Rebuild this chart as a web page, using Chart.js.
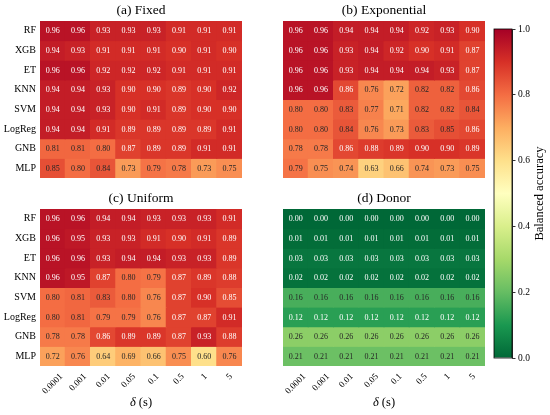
<!DOCTYPE html>
<html><head><meta charset="utf-8">
<script src="https://cdn.jsdelivr.net/npm/chart.js@4"></script>
<style>
html,body{margin:0;padding:0;background:#fff;}
#wrap{position:relative;width:550px;height:415px;background:#fff;}
canvas{position:absolute;left:0;top:0;}
</style></head><body>
<div id="wrap">
<canvas id="ca" width="550" height="415"></canvas>
<canvas id="cb" width="550" height="415"></canvas>
<canvas id="cc" width="550" height="415"></canvas>
<canvas id="cd" width="550" height="415"></canvas>
<canvas id="cbar" width="550" height="415"></canvas>
</div>
<script>
const models = ['RF','XGB','ET','KNN','SVM','LogReg','GNB','MLP'];
const deltas = ['0.0001','0.001','0.01','0.05','0.1','0.5','1','5'];

const fixedAcc = [
  [0.96,0.96,0.93,0.93,0.93,0.91,0.91,0.91],
  [0.94,0.93,0.91,0.91,0.91,0.90,0.91,0.90],
  [0.96,0.96,0.92,0.92,0.92,0.91,0.91,0.91],
  [0.94,0.94,0.93,0.90,0.90,0.89,0.90,0.92],
  [0.94,0.94,0.93,0.90,0.91,0.89,0.90,0.90],
  [0.94,0.94,0.91,0.89,0.89,0.89,0.89,0.91],
  [0.81,0.81,0.80,0.87,0.89,0.89,0.91,0.91],
  [0.85,0.80,0.84,0.73,0.79,0.78,0.73,0.75]
];
const exponentialAcc = [
  [0.96,0.96,0.94,0.94,0.94,0.92,0.93,0.90],
  [0.96,0.96,0.93,0.94,0.92,0.90,0.91,0.87],
  [0.96,0.96,0.93,0.94,0.94,0.94,0.93,0.87],
  [0.96,0.96,0.86,0.76,0.72,0.82,0.82,0.86],
  [0.80,0.80,0.83,0.77,0.71,0.82,0.82,0.84],
  [0.80,0.80,0.84,0.76,0.73,0.83,0.85,0.86],
  [0.78,0.78,0.86,0.88,0.89,0.90,0.90,0.89],
  [0.79,0.75,0.74,0.63,0.66,0.74,0.73,0.75]
];
const uniformAcc = [
  [0.96,0.96,0.94,0.94,0.93,0.93,0.93,0.91],
  [0.96,0.95,0.93,0.93,0.91,0.90,0.91,0.89],
  [0.96,0.96,0.93,0.94,0.94,0.93,0.93,0.89],
  [0.96,0.95,0.87,0.80,0.79,0.87,0.89,0.88],
  [0.80,0.81,0.83,0.80,0.76,0.87,0.90,0.853],
  [0.80,0.81,0.79,0.79,0.76,0.87,0.87,0.91],
  [0.78,0.78,0.86,0.89,0.89,0.87,0.93,0.88],
  [0.72,0.76,0.64,0.69,0.66,0.75,0.60,0.76]
];
const donorAcc = [
  [0.00,0.00,0.00,0.00,0.00,0.00,0.00,0.00],
  [0.01,0.01,0.01,0.01,0.01,0.01,0.01,0.01],
  [0.03,0.03,0.03,0.03,0.03,0.03,0.03,0.03],
  [0.02,0.02,0.02,0.02,0.02,0.02,0.02,0.02],
  [0.16,0.16,0.16,0.16,0.16,0.16,0.16,0.16],
  [0.12,0.12,0.12,0.12,0.12,0.12,0.12,0.12],
  [0.26,0.26,0.26,0.26,0.26,0.26,0.26,0.26],
  [0.21,0.21,0.21,0.21,0.21,0.21,0.21,0.21]
];
const colorbarTicks = [0.0,0.2,0.4,0.6,0.8,1.0];

const SERIF = "'Liberation Serif','DejaVu Serif',serif";
const RDYLGN = ['#a50026','#d73027','#f46d43','#fdae61','#fee08b','#ffffbf','#d9ef8b','#a6d96a','#66bd63','#1a9850','#006837'];
function hex2rgb(h){return [parseInt(h.slice(1,3),16),parseInt(h.slice(3,5),16),parseInt(h.slice(5,7),16)];}
function cmap(v){ // RdYlGn_r
  const t = Math.min(1,Math.max(0,1-v))*10;
  const i = Math.min(9,Math.floor(t)); const f = t-i;
  const a = hex2rgb(RDYLGN[i]), b = hex2rgb(RDYLGN[i+1]);
  const c = a.map((x,k)=>Math.round(x+(b[k]-x)*f));
  return 'rgb('+c.join(',')+')';
}
function textColor(v){ return (v > 0.851 || v < 0.14) ? '#ffffff' : '#262626'; }

function makeOverlay(values, title, showX){
  return {
    id:'overlay',
    afterDatasetsDraw(chart){
      const ctx = chart.ctx, ca = chart.chartArea;
      ctx.save();
      ctx.font = '8px ' + SERIF;
      ctx.textAlign = 'center'; ctx.textBaseline = 'middle';
      values.forEach((row,r)=>{
        const meta = chart.getDatasetMeta(r);
        meta.data.forEach((el,c)=>{
          const p = el.getProps(['x','y','base'], true);
          ctx.fillStyle = textColor(row[c]);
          ctx.fillText(row[c].toFixed(2), p.x, (p.y+p.base)/2 + 0.5);
        });
      });
      ctx.fillStyle = '#000';
      ctx.font = '13.5px ' + SERIF;
      ctx.fillText(title, (ca.left+ca.right)/2, ca.top - 10.5);
      if (showX){
        const xs = chart.scales.x;
        ctx.font = '9px ' + SERIF;
        const topY = ca.bottom + 6;
        deltas.forEach((d,i)=>{
          const w = ctx.measureText(d).width, h = 9;
          const cx = xs.getPixelForValue(i);
          const cy = topY + (w+h)/(2*Math.SQRT2);
          ctx.save(); ctx.translate(cx, cy); ctx.rotate(-Math.PI/4);
          ctx.fillText(d, 0, 0); ctx.restore();
        });
        ctx.font = 'italic 12.5px ' + SERIF;
        const w1 = ctx.measureText('δ').width;
        ctx.font = '12.5px ' + SERIF;
        const w2 = ctx.measureText(' (s)').width;
        const x0 = (ca.left+ca.right)/2 - (w1+w2)/2, y0 = ca.bottom + 37;
        ctx.textAlign = 'left';
        ctx.font = 'italic 12.5px ' + SERIF;
        ctx.fillText('δ', x0, y0);
        ctx.font = '12.5px ' + SERIF;
        ctx.fillText(' (s)', x0 + w1, y0);
      }
      ctx.restore();
    }
  };
}

const Y_AXIS_W = 40;
function makePanel(id, title, values, box, showY, showX){
  new Chart(document.getElementById(id), {
    type:'bar',
    data:{
      labels: deltas,
      datasets: values.map((row,r)=>({
        label: models[r],
        data: row.map(()=>1),
        backgroundColor: row.map(cmap),
        borderWidth: 0,
        barPercentage: 1,
        categoryPercentage: 1,
        inflateAmount: 0.5
      }))
    },
    options:{
      responsive:false, animation:false,
      layout:{padding:{left:box.l - Y_AXIS_W, top:box.t, right:550-box.r, bottom:415-box.b}},
      plugins:{legend:{display:false}, tooltip:{enabled:false}, title:{display:false}},
      scales:{
        x:{stacked:true, grid:{display:false, drawTicks:false}, border:{display:false},
           ticks:{display:false}, afterFit:s=>{s.height=0;}},
        y:{stacked:true, min:0, max:models.length, reverse:true,
           grid:{display:false, drawTicks:false}, border:{display:false},
           ticks:{display:showY, padding:4, autoSkip:false, color:'#000',
                  font:{family:SERIF, size:10},
                  callback:(v,i)=>models[i]},
           afterBuildTicks:s=>{ s.ticks = models.map((m,i)=>({value:i+0.5})); },
           afterFit:s=>{s.width=Y_AXIS_W;}}
      }
    },
    plugins:[makeOverlay(values, title, showX)]
  });
}

makePanel('ca','(a) Fixed', fixedAcc, {l:40,t:21,r:242,b:178}, true, false);
makePanel('cb','(b) Exponential', exponentialAcc, {l:283,t:21,r:485,b:178}, false, false);
makePanel('cc','(c) Uniform', uniformAcc, {l:40,t:209,r:242,b:366}, true, true);
makePanel('cd','(d) Donor', donorAcc, {l:283,t:209,r:485,b:366}, false, true);

// colorbar
const CB_AXIS_W = 30;
new Chart(document.getElementById('cbar'), {
  type:'bar',
  data:{labels:['Balanced accuracy'], datasets:[{
    data:[[colorbarTicks[0], colorbarTicks[colorbarTicks.length-1]]],
    backgroundColor:(c)=>{
      const ca = c.chart.chartArea;
      if(!ca || !isFinite(ca.top) || !isFinite(ca.bottom)) return '#ffffbf';
      const g = c.chart.ctx.createLinearGradient(0, ca.bottom, 0, ca.top);
      for(let k=0;k<=10;k++) g.addColorStop(k/10, RDYLGN[10-k]);
      return g;
    },
    borderWidth:0, barPercentage:1, categoryPercentage:1, inflateAmount:0
  }]},
  options:{
    responsive:false, animation:false,
    layout:{padding:{left:494, top:29, right:550-512-CB_AXIS_W, bottom:415-358}},
    plugins:{legend:{display:false}, tooltip:{enabled:false}},
    scales:{
      x:{display:false},
      y:{position:'right', min:0, max:1,
         afterBuildTicks:s=>{ s.ticks = colorbarTicks.map(v=>({value:v})); },
         ticks:{padding:2.5, color:'#000', font:{family:SERIF, size:9.5}, callback:(v)=>Number(v).toFixed(1)},
         grid:{drawOnChartArea:false, drawTicks:true, tickLength:3.5, color:'#000', lineWidth:0.8},
         border:{display:true, color:'#000', width:0.8},
         afterFit:s=>{s.width=CB_AXIS_W;}}
    }
  },
  plugins:[{
    id:'cbarDeco',
    afterDraw(chart){
      const ctx = chart.ctx, ca = chart.chartArea;
      ctx.save();
      ctx.strokeStyle = '#000'; ctx.lineWidth = 0.8;
      ctx.strokeRect(ca.left, ca.top, ca.right-ca.left, ca.bottom-ca.top);
      ctx.fillStyle = '#000';
      ctx.font = '12.5px ' + SERIF;
      ctx.textAlign = 'center'; ctx.textBaseline = 'middle';
      ctx.translate(540, (ca.top+ca.bottom)/2);
      ctx.rotate(-Math.PI/2);
      ctx.fillText('Balanced accuracy', 0, 0);
      ctx.restore();
    }
  }]
});
</script>
</body></html>
